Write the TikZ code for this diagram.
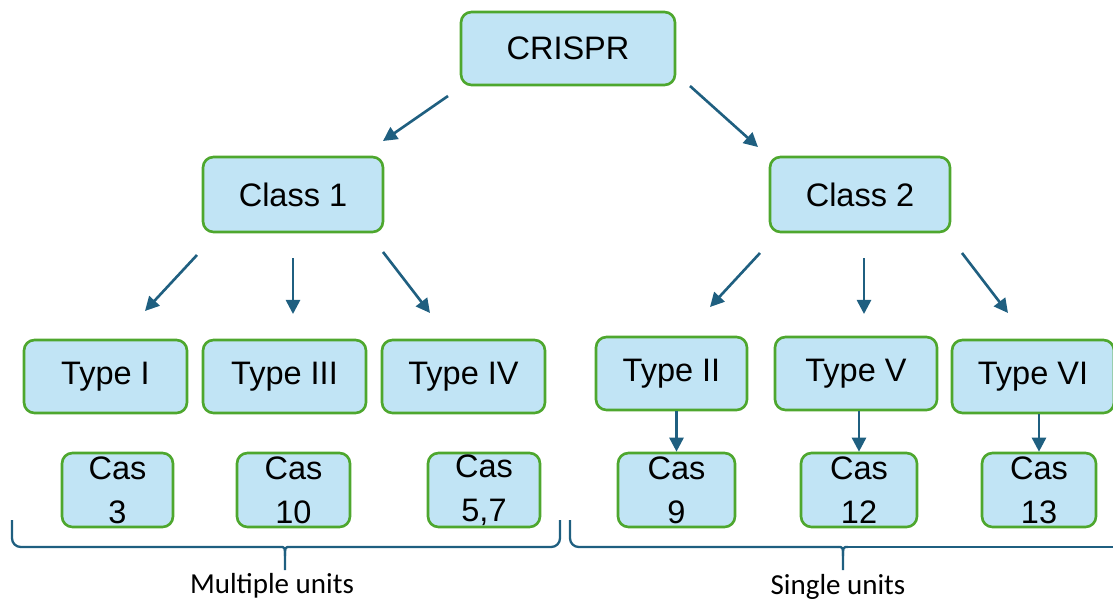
\documentclass[tikz,border=0pt]{standalone}
\usepackage{fontspec}
\setmainfont{Liberation Sans}
\newfontfamily\labfont{Carlito}
\usetikzlibrary{arrows.meta}
\definecolor{boxfill}{HTML}{C1E4F5}
\definecolor{boxline}{HTML}{4EA72E}
\definecolor{arrcol}{HTML}{1F5F80}
\tikzset{
  box/.style={draw=boxline, fill=boxfill, line width=1.5pt, rounded corners=6pt,
    inner sep=0pt, align=center, font=\fontsize{18.5}{25}\selectfont},
  arr/.style={draw=arrcol, line width=1.5pt, -{Triangle[length=8pt,width=8pt]}},
  bline/.style={draw=arrcol, line width=1.3pt},
  brace/.style={bline, rounded corners=5pt},
  lab/.style={font=\labfont\fontsize{16.5}{18}\selectfont}
}
\begin{document}
\begin{tikzpicture}[x=0.02cm,y=-0.02cm]
\useasboundingbox (0,0) rectangle (1113,602);
% nodes
\node[box, minimum width=214*0.02cm, minimum height=73*0.02cm] (crispr) at (568,48.5) {CRISPR};
\node[box, minimum width=180*0.02cm, minimum height=75*0.02cm] (class1) at (293,194.5) {Class 1};
\node[box, minimum width=180*0.02cm, minimum height=75*0.02cm] (class2) at (860,194.5) {Class 2};
\node[box, minimum width=163*0.02cm, minimum height=73*0.02cm] (t1) at (105.5,376.5) {Type I};
\node[box, minimum width=163*0.02cm, minimum height=73*0.02cm] (t3) at (284.5,376.5) {Type III};
\node[box, minimum width=163*0.02cm, minimum height=73*0.02cm] (t4) at (463.5,376.5) {Type IV};
\node[box, minimum width=151*0.02cm, minimum height=73*0.02cm] (t2) at (671.5,373.5) {Type II};
\node[box, minimum width=162*0.02cm, minimum height=73*0.02cm] (t5) at (856,373.5) {Type V};
\node[box, minimum width=162*0.02cm, minimum height=73*0.02cm] (t6) at (1033,376.5) {Type VI};
\node[box, minimum width=111*0.02cm, minimum height=74*0.02cm] (c3) at (117.5,490) {Cas\\3};
\node[box, minimum width=113*0.02cm, minimum height=74*0.02cm] (c10) at (293.5,490) {Cas\\10};
\node[box, minimum width=112*0.02cm, minimum height=74*0.02cm] (c57) at (484,490) {Cas\\5,7};
\node[box, minimum width=117*0.02cm, minimum height=74*0.02cm] (c9) at (676.5,490) {Cas\\9};
\node[box, minimum width=116*0.02cm, minimum height=74*0.02cm] (c12) at (859,490) {Cas\\12};
\node[box, minimum width=114*0.02cm, minimum height=74*0.02cm] (c13) at (1039,490) {Cas\\13};
% arrow end points
\coordinate (a1s) at (448,96);  \coordinate (a1e) at (383,141);
\coordinate (a2s) at (690,86);  \coordinate (a2e) at (758,147);
\coordinate (b1s) at (197,255); \coordinate (b1e) at (145,311);
\coordinate (b2s) at (293,258); \coordinate (b2e) at (293,314);
\coordinate (b3s) at (383,252); \coordinate (b3e) at (430,313);
\coordinate (d1s) at (760,253); \coordinate (d1e) at (710,307);
\coordinate (d2s) at (864,258); \coordinate (d2e) at (864,314);
\coordinate (d3s) at (962,253); \coordinate (d3e) at (1008,313);
\draw[arr] (a1s) -- (a1e);
\draw[arr] (a2s) -- (a2e);
\draw[arr] (b1s) -- (b1e);
\draw[arr] (b2s) -- (b2e);
\draw[arr] (b3s) -- (b3e);
\draw[arr] (d1s) -- (d1e);
\draw[arr] (d2s) -- (d2e);
\draw[arr] (d3s) -- (d3e);
\draw[arr] (t2.south -| c9) -- (c9.north);
\draw[arr] (t5.south -| c12) -- (c12.north);
\draw[arr] (t6.south -| c13) -- (c13.north);
% braces
\draw[brace] (12,520) -- (12,547) -- (280,547);
\draw[bline] (280,547) .. controls (285,547) .. (285,556) -- (285,570);
\draw[bline] (285,556) .. controls (285,547) .. (290,547);
\draw[brace] (290,547) -- (560,547) -- (560,520);
\draw[brace] (570,520) -- (570,547) -- (838,547);
\draw[bline] (838,547) .. controls (843,547) .. (843,556) -- (843,570);
\draw[bline] (843,556) .. controls (843,547) .. (848,547);
\draw[brace] (848,547) -- (1113,547);
\node[lab] (mu) at (272,586) {Multiple units};
\node[lab] (su) at (838,587) {Single units};
\end{tikzpicture}
\end{document}
